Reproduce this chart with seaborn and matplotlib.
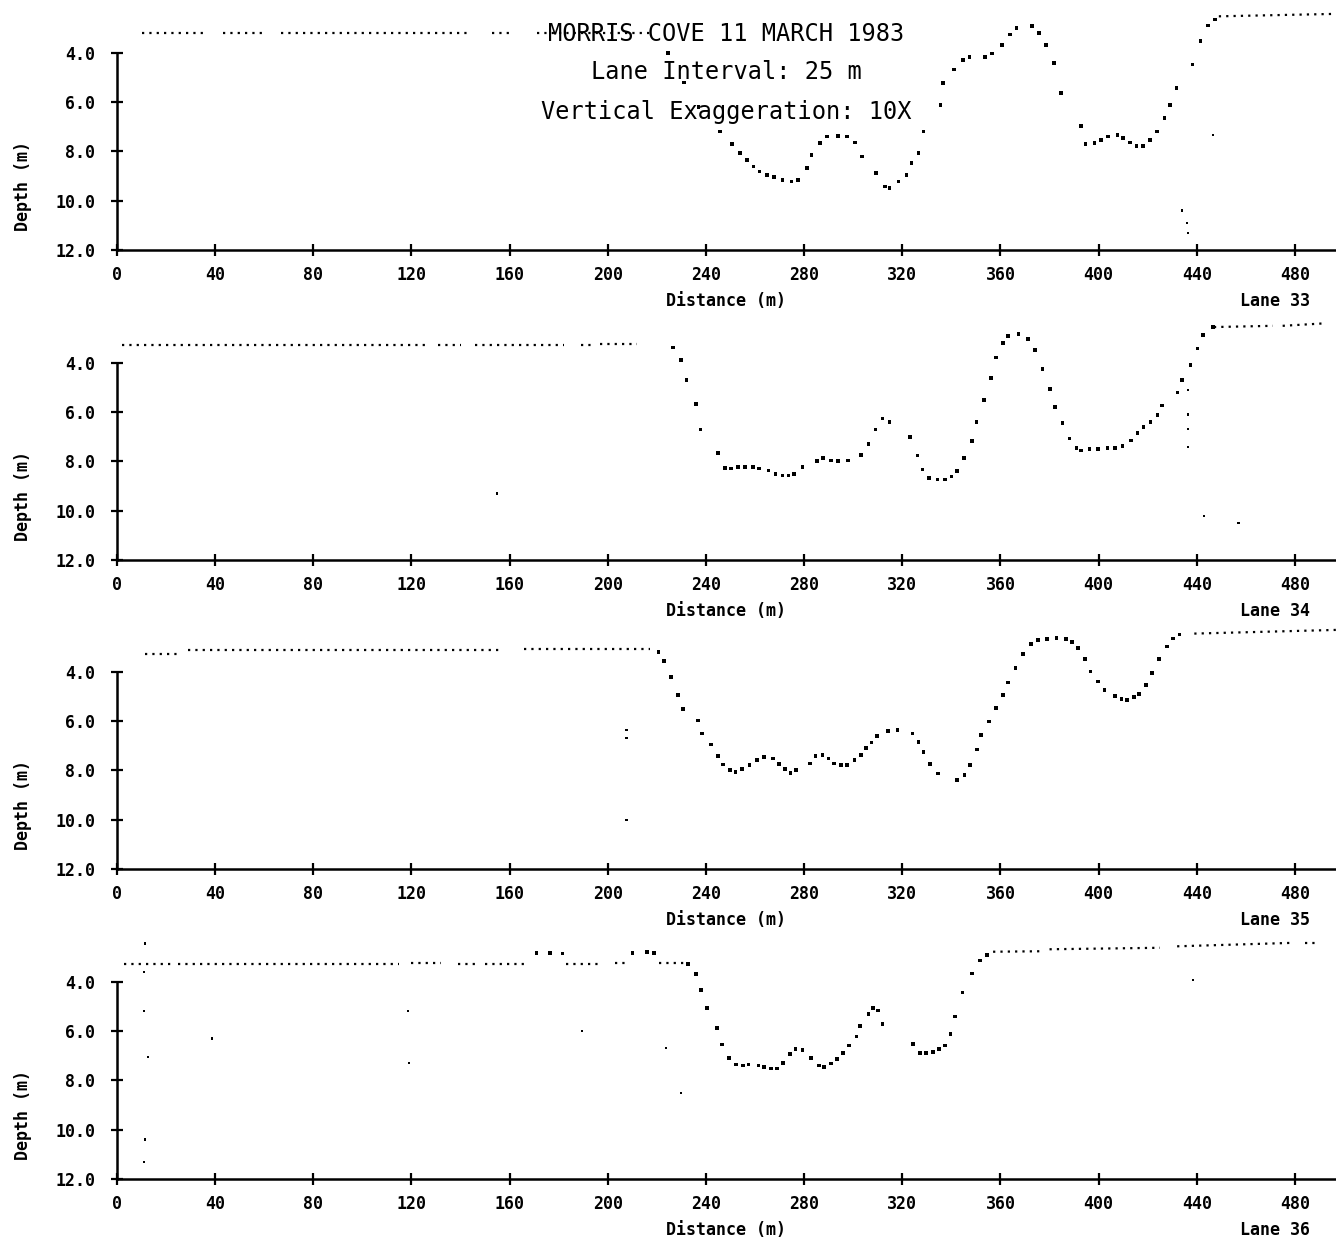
import numpy as np
import pandas as pd
import matplotlib
matplotlib.use('Agg')
import matplotlib.pyplot as plt
import seaborn as sns

# ---- Lane 33 ----
lane33_x = [224.5, 231, 237, 245.8, 250.7, 254, 256.7, 259.4, 261.8, 264.9, 267.6, 271.2, 274.8, 277.6,
            281.2, 283, 286.6, 289.4, 293.9, 297.5, 300.6, 303.5, 309.3, 313, 314.8, 318.4, 321.7,
            323.8, 326.6, 328.7, 335.6, 336.6, 341.1, 344.7, 347.4, 353.8, 356.5, 360.5, 363.8, 366.5,
            372.8, 375.6, 378.7, 381.9, 384.6, 392.8, 394.6, 398.3, 401, 403.7, 407.7, 410, 412.8,
            415.5, 418.2, 421, 423.7, 426.9, 429.1, 431.8, 438.2, 441.5, 444.5, 447.3]
lane33_depth = [4.0, 5.2, 6.2, 7.19, 7.69, 8.07, 8.34, 8.61, 8.82, 8.95, 9.05, 9.15, 9.22, 9.15,
                8.68, 8.14, 7.66, 7.39, 7.37, 7.39, 7.64, 8.21, 8.88, 9.43, 9.49, 9.22, 8.95,
                8.48, 8.07, 7.19, 6.11, 5.22, 4.68, 4.28, 4.17, 4.17, 4.03, 3.67, 3.26, 2.99,
                2.92, 3.19, 3.67, 4.41, 5.63, 6.96, 7.69, 7.66, 7.53, 7.39, 7.33, 7.46, 7.64,
                7.77, 7.77, 7.53, 7.19, 6.65, 6.11, 5.43, 4.48, 3.53, 2.89, 2.65]
lane33_seg_x0 = [10, 43, 67, 153, 171, 449]
lane33_seg_x1 = [37, 60, 144, 160, 218, 497]
lane33_seg_d0 = [3.2, 3.2, 3.2, 3.2, 3.2, 2.52]
lane33_seg_d1 = [3.2, 3.2, 3.2, 3.2, 3.2, 2.42]
lane33_stray_x = [434, 436, 436.5, 446.5]
lane33_stray_depth = [10.4, 10.9, 11.3, 7.35]

# ---- Lane 34 ----
lane34_x = [226.7, 229.8, 232.1, 235.9, 237.8, 244.9, 247.7, 250.2, 253.1, 256, 259.2, 261.7, 265.5,
            268.4, 271.2, 273.7, 276, 279.4, 285.2, 287.8, 290.9, 293.8, 298, 303.1, 306.2, 309.1,
            311.9, 314.8, 323.2, 326.2, 328.3, 331, 334.3, 337.5, 340, 342.3, 345.1, 348.4, 350.3,
            353.4, 356.2, 358.1, 361, 363.1, 367.3, 371.1, 374.2, 377.2, 380.3, 382.2, 385.3, 388.1,
            391, 392.9, 396.3, 399.8, 403.6, 406.8, 409.7, 413.1, 415.9, 418.3, 421.2, 424, 425.9,
            432.2, 434.1, 437.4, 440.3, 442.6, 446.6]
lane34_depth = [3.38, 3.89, 4.71, 5.66, 6.70, 7.65, 8.27, 8.29, 8.24, 8.24, 8.24, 8.29, 8.37,
                8.51, 8.57, 8.57, 8.51, 8.24, 7.99, 7.86, 7.97, 7.99, 7.97, 7.75, 7.29, 6.70,
                6.26, 6.39, 7.02, 7.76, 8.33, 8.67, 8.74, 8.74, 8.61, 8.38, 7.86, 7.18, 6.39,
                5.52, 4.63, 3.78, 3.20, 2.90, 2.83, 3.04, 3.48, 4.26, 5.05, 5.78, 6.45, 7.07,
                7.45, 7.56, 7.49, 7.49, 7.45, 7.45, 7.38, 7.15, 6.84, 6.61, 6.40, 6.12, 5.73,
                5.21, 4.71, 4.10, 3.42, 2.87, 2.56]
lane34_seg_x0 = [2, 131, 146, 189, 197, 447, 475]
lane34_seg_x1 = [127, 140, 182, 193, 212, 471, 492]
lane34_seg_d0 = [3.28, 3.28, 3.28, 3.28, 3.25, 2.55, 2.5]
lane34_seg_d1 = [3.28, 3.28, 3.28, 3.28, 3.25, 2.5, 2.4]
lane34_stray_x = [436.5, 436.5, 436.5, 436.5, 155, 443, 457]
lane34_stray_depth = [5.1, 6.1, 6.7, 7.4, 9.3, 10.2, 10.5]

# ---- Lane 35 ----
lane35_x = [220.6, 222.9, 225.8, 228.6, 230.7, 236.7, 238.4, 242, 244.9, 247, 249.8, 252.1, 254.6,
            257.7, 260.7, 263.6, 267.4, 269.9, 272.2, 274.5, 276.6, 282.3, 284.6, 287.5, 290,
            292.2, 295.1, 297.4, 300.5, 303.1, 305.2, 307.5, 309.8, 314.2, 318, 324.1, 326.6,
            328.7, 331.4, 334.6, 342.3, 345.3, 347.6, 350.5, 352, 355.3, 358.1, 361, 363.1, 366.2,
            369.2, 372.5, 375.3, 379.1, 382.9, 386.7, 389.2, 391.5, 394.4, 396.7, 399.8, 402.4,
            406.8, 409.3, 411.6, 414.5, 416.4, 419.3, 421.7, 424.6, 427.8, 430.3, 433]
lane35_depth = [3.2, 3.55, 4.22, 4.94, 5.52, 5.98, 6.50, 6.95, 7.41, 7.76, 7.99, 8.06, 7.95,
                7.79, 7.59, 7.45, 7.52, 7.75, 7.93, 8.10, 7.99, 7.72, 7.41, 7.38, 7.52,
                7.72, 7.79, 7.79, 7.59, 7.38, 7.08, 6.87, 6.61, 6.39, 6.36, 6.50, 6.84,
                7.25, 7.75, 8.13, 8.38, 8.20, 7.79, 7.15, 6.57, 6.02, 5.48, 4.94, 4.43, 3.85,
                3.28, 2.86, 2.72, 2.67, 2.63, 2.67, 2.80, 3.04, 3.48, 3.99, 4.39, 4.73,
                4.98, 5.11, 5.14, 5.03, 4.90, 4.53, 4.05, 3.48, 2.97, 2.65, 2.49]
lane35_seg_x0 = [11.5, 29, 166, 439]
lane35_seg_x1 = [25, 157, 217, 497]
lane35_seg_d0 = [3.26, 3.12, 3.08, 2.45]
lane35_seg_d1 = [3.26, 3.12, 3.08, 2.3]
lane35_stray_x = [207.6, 207.6, 207.6]
lane35_stray_depth = [6.35, 6.7, 10.0]

# ---- Lane 36 ----
lane36_x = [171, 176.5, 181.5, 210.1, 215.9, 218.7, 232.7, 235.9, 237.9, 240.5, 244.6, 246.5, 249.3,
            252.2, 255.1, 257.4, 261.4, 263.7, 266.5, 269, 271.3, 274.2, 276.5, 279.3, 282.8, 286,
            288, 291, 293.3, 295.8, 298.3, 301.3, 302.9, 306.3, 308.2, 310.1, 312, 324.3, 327.3,
            329.6, 332.5, 335, 337.3, 339.6, 341.5, 344.6, 348.4, 351.6, 354.5]
lane36_depth = [2.82, 2.82, 2.85, 2.82, 2.79, 2.84, 3.29, 3.69, 4.32, 5.06, 5.87, 6.55, 7.08,
                7.35, 7.39, 7.35, 7.40, 7.45, 7.52, 7.52, 7.29, 6.94, 6.72, 6.78, 7.08, 7.39,
                7.45, 7.32, 7.12, 6.88, 6.58, 6.22, 5.80, 5.30, 5.06, 5.17, 5.71, 6.51, 6.89,
                6.88, 6.85, 6.72, 6.58, 6.11, 5.41, 4.43, 3.66, 3.13, 2.91]
lane36_seg_x0 = [3, 25, 120, 139, 150, 183, 203, 221, 357, 380, 432, 484]
lane36_seg_x1 = [22, 115, 132, 146, 168, 197, 207, 231, 377, 425, 479, 490]
lane36_seg_d0 = [3.26, 3.26, 3.22, 3.26, 3.26, 3.26, 3.24, 3.24, 2.78, 2.68, 2.56, 2.41]
lane36_seg_d1 = [3.26, 3.26, 3.22, 3.26, 3.26, 3.26, 3.24, 3.24, 2.76, 2.62, 2.42, 2.41]
lane36_stray_x = [11.3, 11, 11, 12.7, 11.3, 11, 38.6, 118.7, 119, 189.6, 223.6, 229.8, 438.6]
lane36_stray_depth = [2.45, 3.6, 5.18, 7.06, 10.4, 11.3, 6.3, 5.2, 7.3, 6.0, 6.7, 8.5, 3.93]

lane_names = ['Lane 33', 'Lane 34', 'Lane 35', 'Lane 36']
x_ticks = [0, 40, 80, 120, 160, 200, 240, 280, 320, 360, 400, 440, 480]
y_ticks = [4.0, 6.0, 8.0, 10.0, 12.0]
title_lines = ['MORRIS COVE 11 MARCH 1983', 'Lane Interval: 25 m', 'Vertical Exaggeration: 10X']

lanes = [
    (lane33_x, lane33_depth, lane33_seg_x0, lane33_seg_x1, lane33_seg_d0, lane33_seg_d1, lane33_stray_x, lane33_stray_depth),
    (lane34_x, lane34_depth, lane34_seg_x0, lane34_seg_x1, lane34_seg_d0, lane34_seg_d1, lane34_stray_x, lane34_stray_depth),
    (lane35_x, lane35_depth, lane35_seg_x0, lane35_seg_x1, lane35_seg_d0, lane35_seg_d1, lane35_stray_x, lane35_stray_depth),
    (lane36_x, lane36_depth, lane36_seg_x0, lane36_seg_x1, lane36_seg_d0, lane36_seg_d1, lane36_stray_x, lane36_stray_depth),
]

sns.set_style('ticks')
plt.rcParams['font.family'] = ['DejaVu Sans Mono']
plt.rcParams['font.weight'] = 'bold'
for k in ['text.color', 'axes.labelcolor', 'xtick.color', 'ytick.color', 'axes.edgecolor']:
    plt.rcParams[k] = 'black'

W, H = 1336, 1244
fig = plt.figure(figsize=(W / 100, H / 100), dpi=100)

bottoms_px = [250, 560, 869, 1179]
height_px = 246.5
left_px = 117

for i, (px, pd_, sx0, sx1, sd0, sd1, stx, std) in enumerate(lanes):
    ax = fig.add_axes([left_px / W, 1 - bottoms_px[i] / H, 1 - left_px / W, height_px / H])

    # surface segments as fine dotted runs
    seg = pd.DataFrame({
        'seg': np.repeat(np.arange(len(sx0)), 2),
        'x': np.ravel(np.column_stack([sx0, sx1])),
        'depth': np.ravel(np.column_stack([sd0, sd1])),
    })
    sns.lineplot(data=seg, x='x', y='depth', units='seg', estimator=None, sort=False,
                 color='black', linestyle=(0, (1, 2.3)), linewidth=1.6, ax=ax, legend=False)

    prof = pd.DataFrame({'x': px, 'depth': pd_})
    sns.scatterplot(data=prof, x='x', y='depth', marker='s', s=7, color='black',
                    edgecolor='none', ax=ax, legend=False)
    stray = pd.DataFrame({'x': stx, 'depth': std})
    sns.scatterplot(data=stray, x='x', y='depth', marker='s', s=2.5, color='black',
                    edgecolor='none', ax=ax, legend=False)

    ax.set_xlim(0, (W - left_px) / 2.454)
    ax.set_ylim(12, 2.0)
    ax.set_xticks(x_ticks)
    ax.set_yticks(y_ticks)
    ax.set_yticklabels([f'{v:.1f}' for v in y_ticks])
    ax.tick_params(axis='both', direction='inout', length=9, width=1.6, color='black',
                   labelsize=12, bottom=True, left=True)
    ax.tick_params(axis='y', pad=11)
    ax.tick_params(axis='x', pad=7)
    for s in ['top', 'right']:
        ax.spines[s].set_visible(False)
    ax.spines['left'].set_bounds(4, 12)
    ax.spines['left'].set_linewidth(1.8)
    ax.spines['bottom'].set_linewidth(1.8)
    ax.set_facecolor('none')

    ax.set_xlabel('Distance (m)', fontsize=12, fontweight='bold', labelpad=6)
    ax.set_ylabel('Depth (m)', fontsize=12, fontweight='bold')
    ax.yaxis.set_label_coords(-0.07, 0.26)
    ax.text(0.979, -0.207, lane_names[i], transform=ax.transAxes, ha='right', va='center',
            fontsize=12, fontweight='bold')

    if i == 0:
        for yy, line in zip([0.878, 0.724, 0.561], title_lines):
            ax.text(0.5, yy, line, transform=ax.transAxes, ha='center', va='center',
                    fontsize=17, fontweight='normal')

fig.savefig('out.png', dpi=100, facecolor='white')
